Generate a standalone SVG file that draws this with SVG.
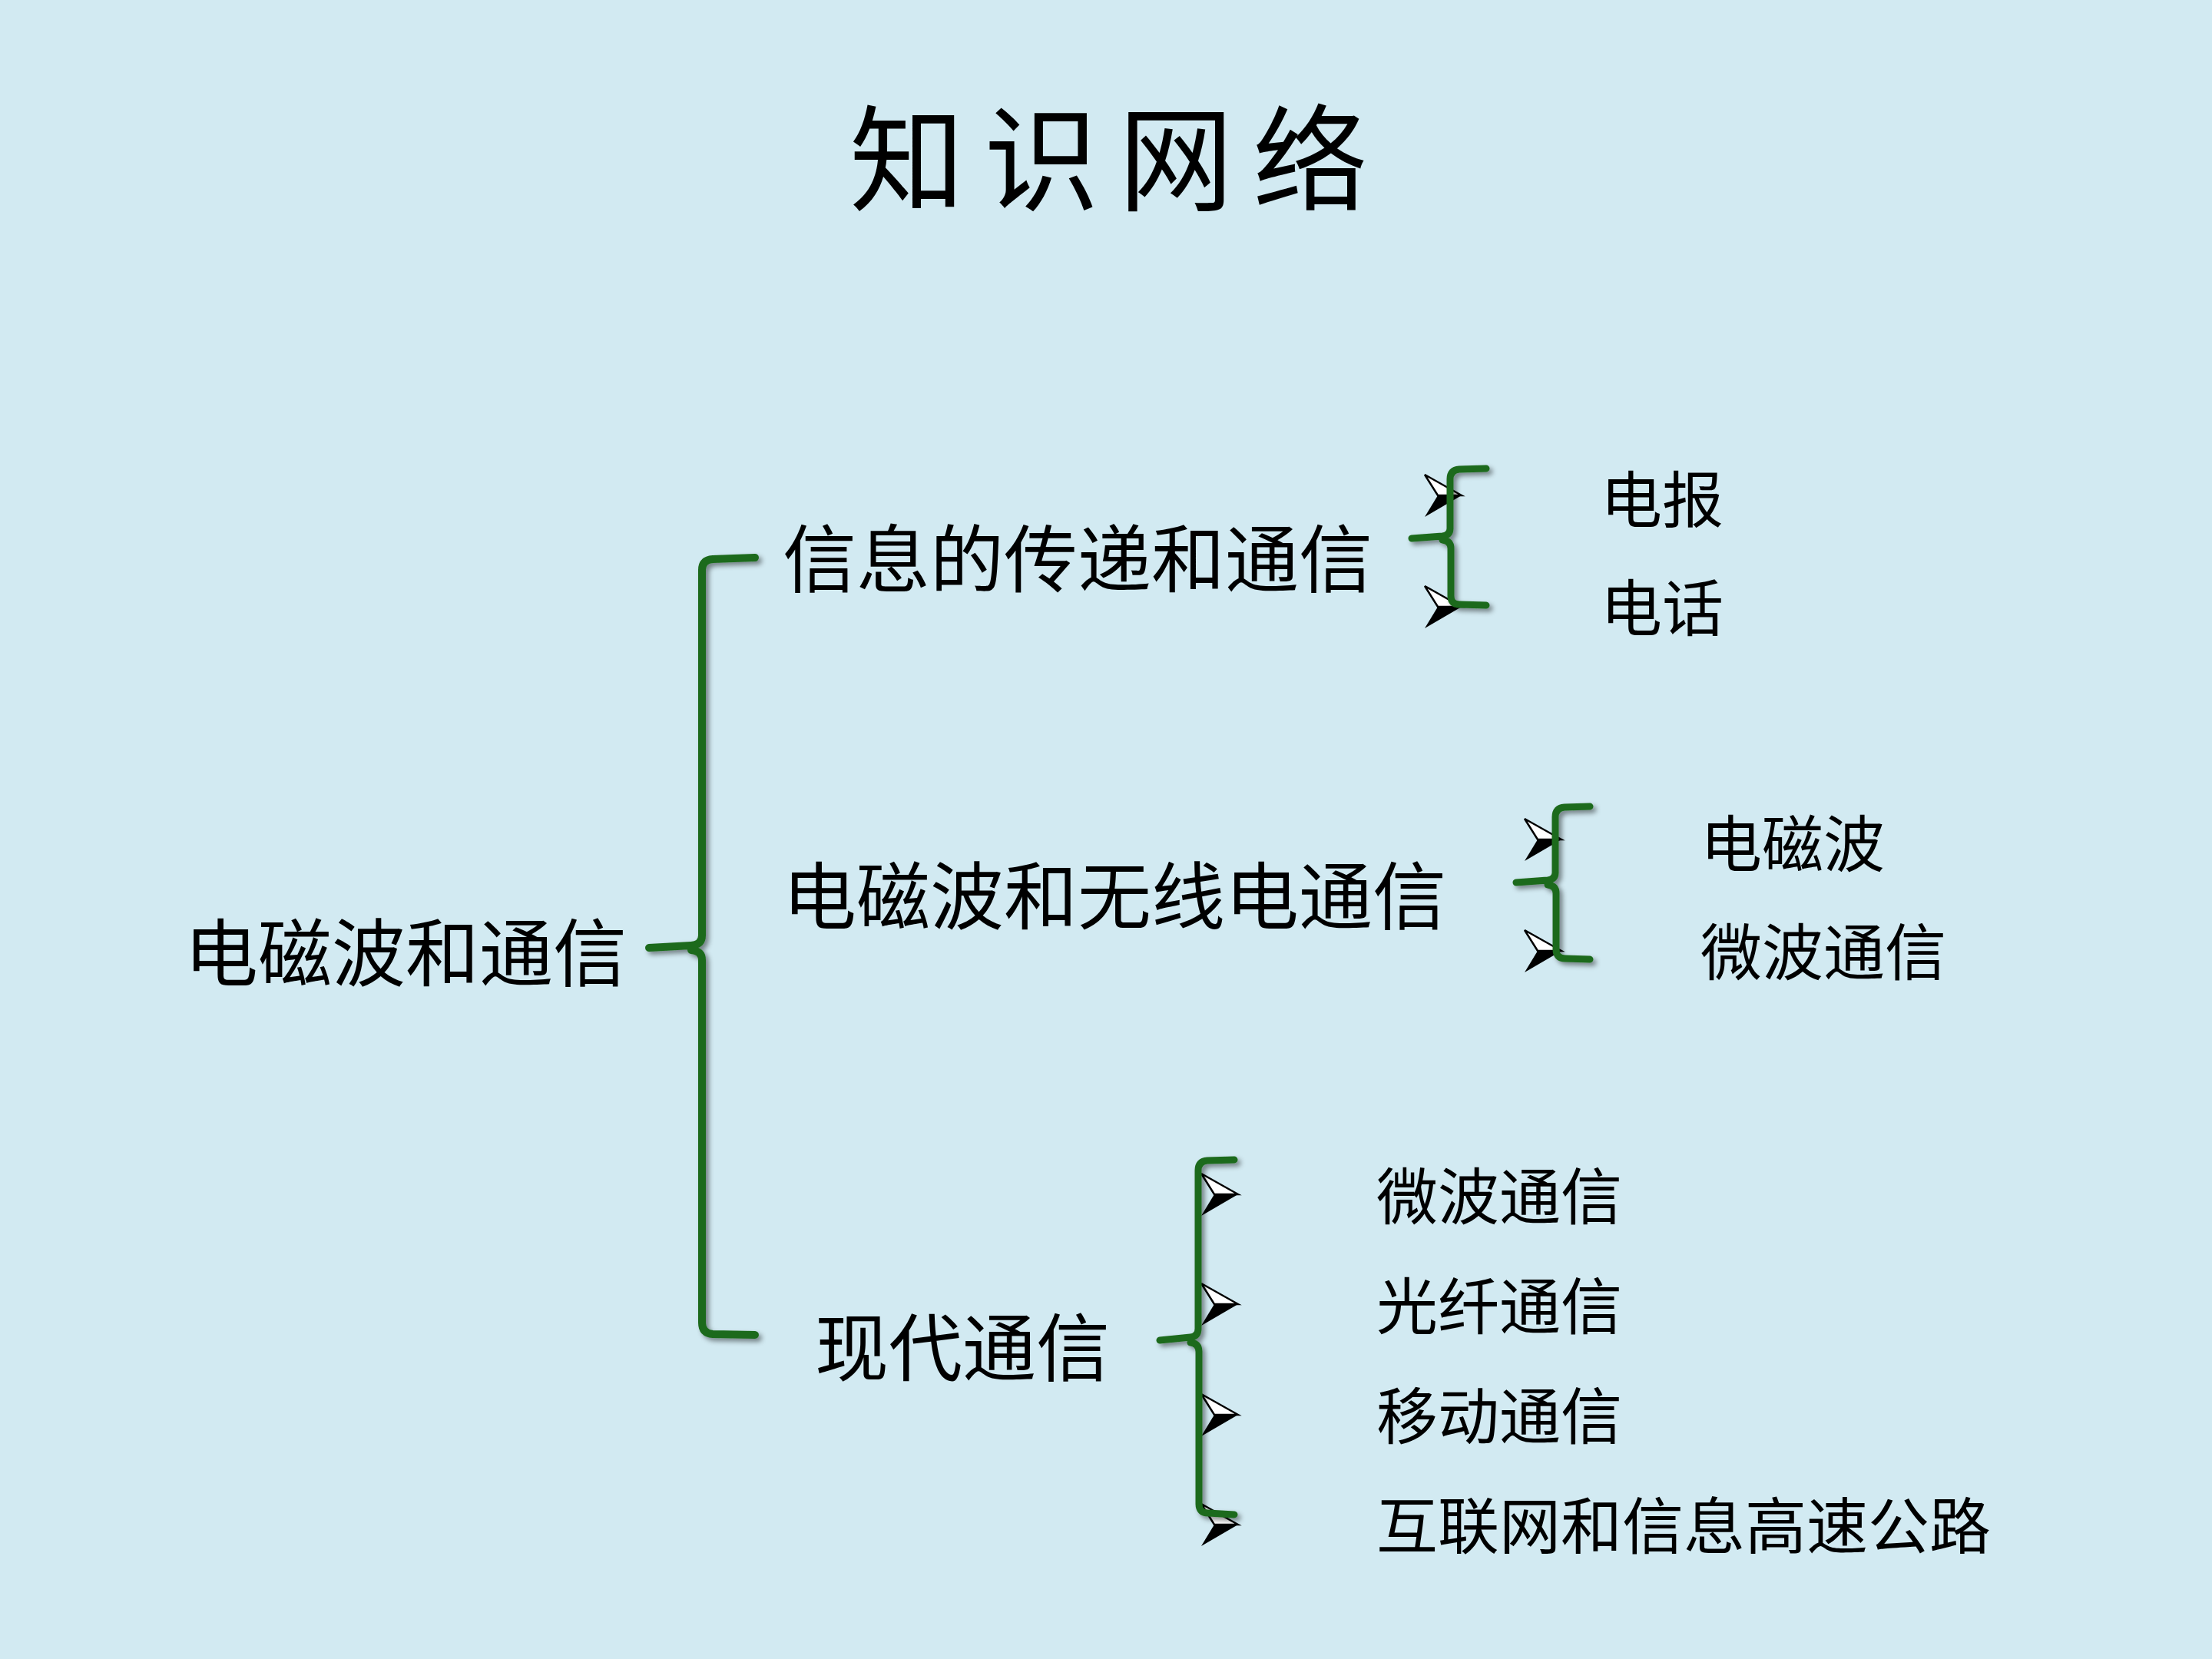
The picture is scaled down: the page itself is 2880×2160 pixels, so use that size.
<svg xmlns="http://www.w3.org/2000/svg" width="2880" height="2160" viewBox="0 0 2880 2160">
<defs>
<style>
.t{font-family:"Noto Sans CJK SC","Noto Sans",sans-serif;fill:#000}
.title{font-size:150px;letter-spacing:25px}
.main{font-size:96px}
.sub{font-size:80px}
.br{fill:none;stroke:#1e6a1e;stroke-linecap:round;stroke-linejoin:round}
.brM{stroke-width:10}
.brS{stroke-width:9}
</style>
<filter id="sh" x="-20%" y="-5%" width="140%" height="110%">
<feDropShadow dx="4" dy="4" stdDeviation="3" flood-color="#000" flood-opacity="0.45"/>
</filter>
<g id="arrow">
<polygon points="0,0 -31,0 -48,28" fill="#000"/>
<polygon points="0,0 -48,-27 -31,0" fill="#fff" stroke="#000" stroke-width="2.5" stroke-linejoin="miter"/>
</g>
</defs>
<rect width="2880" height="2160" fill="#d2eaf2"/>

<g id="title"><text class="t title" x="1106" y="263">知识网络</text></g>

<g id="node-root"><text class="t main" x="240" y="1276">电磁波和通信</text></g>
<g id="node-info"><text class="t main" x="1019" y="763">信息的传递和通信</text></g>
<g id="node-em"><text class="t main" x="1019" y="1202">电磁波和无线电通信</text></g>
<g id="node-modern"><text class="t main" x="1061" y="1790">现代通信</text></g>

<g id="node-telegraph"><text class="t sub" x="2084" y="680">电报</text></g>
<g id="node-phone"><text class="t sub" x="2084" y="821">电话</text></g>
<g id="node-emwave"><text class="t sub" x="2214" y="1128">电磁波</text></g>
<g id="node-microwave1"><text class="t sub" x="2214" y="1269">微波通信</text></g>
<g id="node-microwave2"><text class="t sub" x="1792" y="1587">微波通信</text></g>
<g id="node-fiber"><text class="t sub" x="1792" y="1730">光纤通信</text></g>
<g id="node-mobile"><text class="t sub" x="1792" y="1873">移动通信</text></g>
<g id="node-internet"><text class="t sub" x="1792" y="2016">互联网和信息高速公路</text></g>

<g id="connectors">
<g id="bullets">
<use href="#arrow" x="1903" y="645"/>
<use href="#arrow" x="1903" y="790"/>
<use href="#arrow" x="2033" y="1093"/>
<use href="#arrow" x="2033" y="1238"/>
<use href="#arrow" x="1612" y="1555"/>
<use href="#arrow" x="1612" y="1698"/>
<use href="#arrow" x="1612" y="1842"/>
<use href="#arrow" x="1612" y="1985"/>
</g>
<g filter="url(#sh)">
<path class="br brM" d="M983,726 L928,728 Q914,729 914,742 L914,1218 Q914,1230 900,1231 L845,1234 M900,1237 Q914,1238 914,1250 L914,1722 Q914,1736 928,1737 L983,1738"/>
<path class="br brS" d="M1935,610 L1900,611 Q1888,612 1888,624 L1888,688 Q1888,697 1878,698 L1838,701 M1878,703 Q1889,704 1889,714 L1889,776 Q1889,787 1900,787 L1935,788"/>
<path class="br brS" d="M2070,1050 L2037,1051 Q2025,1052 2025,1064 L2025,1136 Q2025,1145 2015,1146 L1974,1149 M2015,1152 Q2026,1153 2026,1163 L2026,1236 Q2026,1248 2038,1248 L2070,1249"/>
<path class="br brS" d="M1607,1510 L1572,1511 Q1560,1512 1560,1524 L1560,1730 Q1560,1740 1550,1741 L1510,1745 M1550,1748 Q1561,1749 1561,1760 L1561,1958 Q1561,1970 1573,1970 L1607,1972"/>
</g>
</g>
</svg>
